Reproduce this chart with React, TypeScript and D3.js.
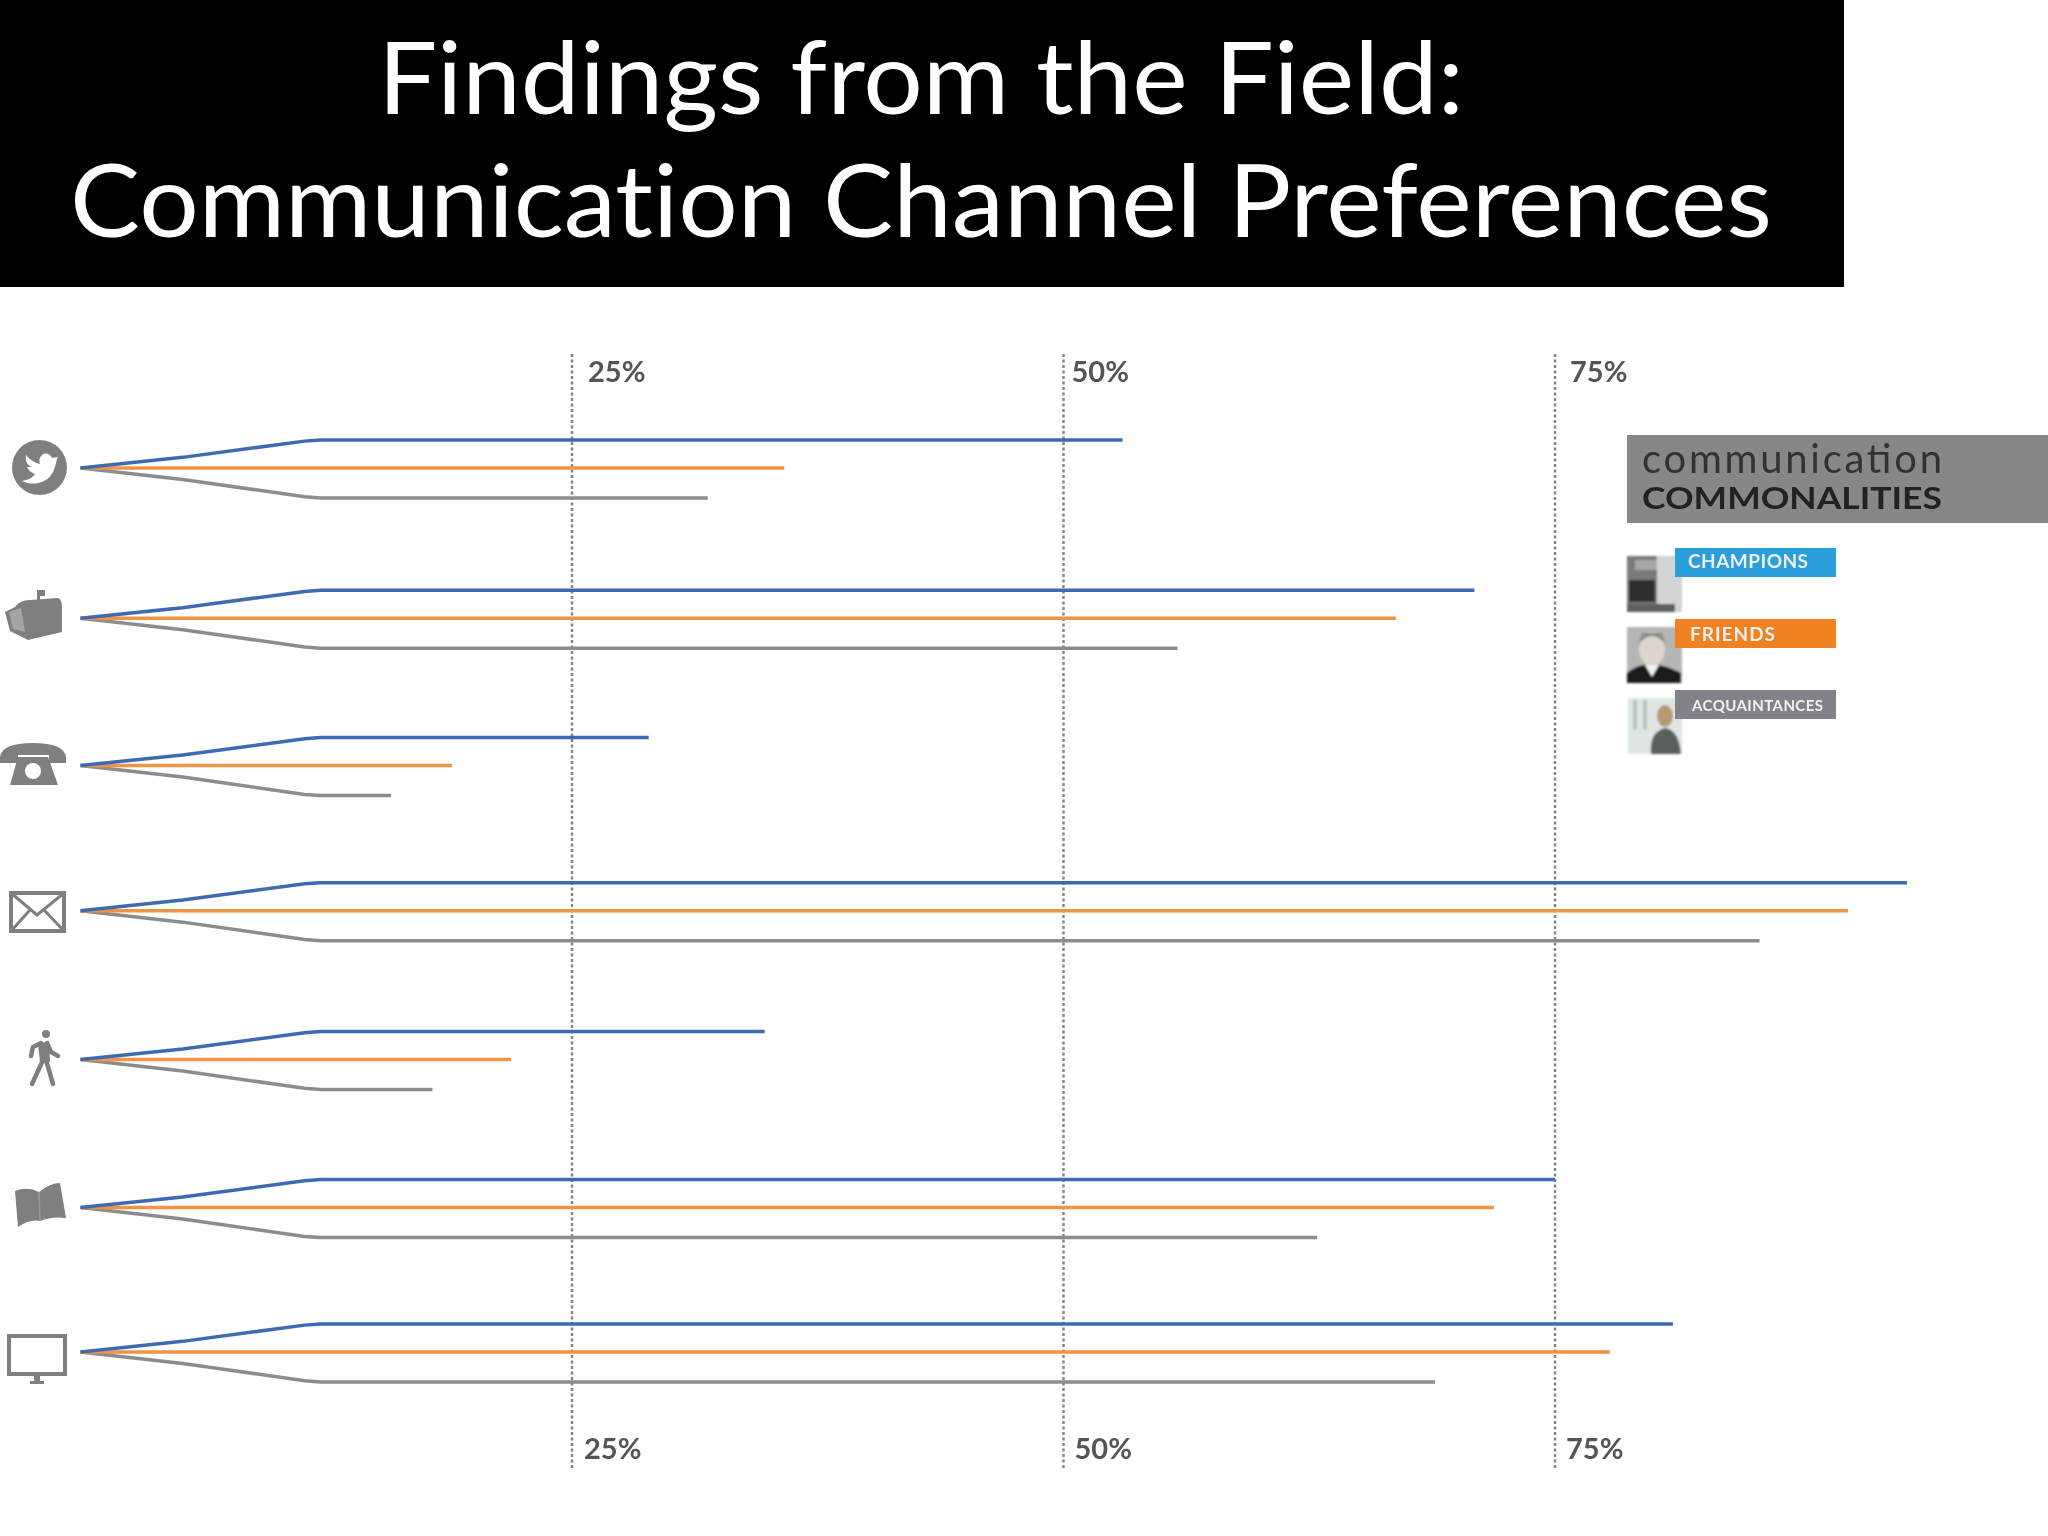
import React from "react";
import * as d3 from "d3";

const titleLines = ["Findings from the Field:", "Communication Channel Preferences"];
const channels = ["Twitter", "Mail", "Phone", "Email", "In person", "Print", "Web"];
const channelRows = [0, 1.02, 2.02, 3.005, 4.015, 5.02, 6];
const champions = [53, 70.9, 28.9, 92.9, 34.8, 75, 81];
const friends = [35.8, 66.9, 18.9, 89.9, 21.9, 71.9, 77.8];
const acquaintances = [31.9, 55.8, 15.8, 85.4, 17.9, 62.9, 68.9];
const gridTicks = [25, 50, 75];
const branchAt = [0, 5.2, 11.4, 12.2];
const branchLift = [0, 0.38, 0.96, 1];
const legendNames = ["CHAMPIONS", "FRIENDS", "ACQUAINTANCES"];

const BLUE = "#3e6bb0";
const ORANGE = "#ee9445";
const GRAY = "#8c8c8c";
const ICON = "#7f7f7f";
const FONT = "Lato, 'Open Sans', sans-serif";

const x = d3.scaleLinear().domain([0, 75]).range([80.5, 1555]);
const y = d3.scaleLinear().domain([0, 6]).range([468, 1352]);
const line = d3
  .line<[number, number]>()
  .x((d) => x(d[0]))
  .y((d) => d[1])
  .curve(d3.curveLinear);

function branch(value: number, row: number, spread: number) {
  const c = y(row);
  const pts: [number, number][] = branchAt
    .filter((b) => b < value)
    .map((b, i) => [b, c + spread * branchLift[i]]);
  pts.push([value, c + spread]);
  return line(pts) as string;
}

const icons: React.ReactNode[] = [
  <g key="tw">
    <ellipse cx={39.5} cy={467.5} rx={27.5} ry={27.5} fill={ICON} />
    <path
      d="M22 481 C32 486 47 484 53 472 C56 466 56 460 58 457 L52 458 C50 453 44 452 41 456 C39 459 39 461 40 464 C35 463 30 460 26 455 C25 461 27 464 31 467 L27 467 C29 471 32 473 35 474 C32 478 28 480 22 481 Z"
      fill="#fff"
    />
  </g>,
  <g key="mail" fill={ICON}>
    <path d="M15 607 Q20 600 30 600 L58 598 Q62 599 62 608 L62 632 L28 640 L10 631 L5 612 Z" />
    <path d="M9 612 L21 608 L25 632 L13 629 Z" fill="#a5a5a5" />
    <rect x={37} y={590} width={3} height={10} />
    <rect x={37} y={590} width={8} height={6} />
  </g>,
  <g key="phone" fill={ICON}>
    <path d="M0 757 Q2 743 33 743 Q64 743 66 757 L66 763 L49 763 L49 755 L18 755 L18 763 L0 763 Z" />
    <path d="M18 757 L48 757 L58 785 L10 785 Z" />
    <circle cx={33} cy={771} r={8} fill="#fff" />
  </g>,
  <g key="email" fill="none" stroke={ICON} strokeWidth={4}>
    <rect x={11} y={893} width={53} height={38} />
    <path d="M11 893 L37 915 L64 893 M11 931 L30 910 M64 931 L44 910" strokeWidth={3} />
  </g>,
  <g key="walk">
    <circle cx={46} cy={1034} r={4} fill={ICON} />
    <path d="M38 1044 L49 1041 L50 1062 L40 1062 Z" fill={ICON} />
    <path
      d="M41 1043 L33 1047 L31 1056 M47 1043 L51 1052 L58 1056 M43 1060 L32 1084 M46 1060 L53 1084"
      fill="none"
      stroke={ICON}
      strokeWidth={4.5}
      strokeLinecap="round"
      strokeLinejoin="round"
    />
  </g>,
  <g key="book" fill={ICON}>
    <path d="M15 1191 Q28 1186 39 1192 Q50 1183 60 1183 L66 1218 Q52 1216 40 1221 Q30 1219 18 1227 Z" />
    <path d="M39 1192 L40 1221" stroke="#999" strokeWidth={1.5} />
  </g>,
  <g key="web">
    <rect x={9} y={1336} width={56} height={38} fill="none" stroke={ICON} strokeWidth={4} />
    <rect x={34} y={1376} width={6} height={6} fill={ICON} />
    <rect x={30} y={1381} width={14} height={3} fill={ICON} />
  </g>,
];

const legendRects = [
  { fill: "#2a9fdc", y0: 548, photo: 556, text: 1688, end: 1808, base: 568 },
  { fill: "#f08224", y0: 619, photo: 627, text: 1690, end: 1775, base: 641 },
  { fill: "#80848a", y0: 690, photo: 698, text: 1692, end: 1823, base: 711 },
];

function Photo({ index, top }: { index: number; top: number }) {
  const X = 1627;
  if (index === 0)
    return (
      <g filter="url(#soft)">
        <rect x={X} y={top} width={55} height={56} fill="#d2d4d5" />
        <rect x={X} y={top} width={30} height={56} fill="#7a7a7a" />
        <rect x={X + 8} y={top + 4} width={22} height={10} fill="#a8a8a8" />
        <path d={`M${X + 2} ${top + 24} h26 v22 h-26 Z`} fill="#2f2f2f" />
        <rect x={X} y={top + 48} width={48} height={8} fill="#5f5f5f" />
      </g>
    );
  if (index === 1)
    return (
      <g filter="url(#soft)">
        <rect x={X} y={top} width={55} height={56} fill="#b5b5b5" />
        <ellipse cx={X + 25} cy={top + 22} rx={13} ry={17} fill="#ddd6cc" />
        <path d={`M${X + 11} ${top + 18} q14 -18 28 0 l-4 -12 h-20 Z`} fill="#8c8c8c" />
        <path d={`M${X} ${top + 56} v-10 q10 -8 18 -8 h14 q10 2 22 8 v10 Z`} fill="#1c1c1c" />
        <path d={`M${X + 18} ${top + 38} l7 12 l7 -12 Z`} fill="#f2f2f2" />
      </g>
    );
  return (
    <g filter="url(#soft)">
      <rect x={X + 1} y={top} width={54} height={56} fill="#dfe5e3" />
      <rect x={X + 6} y={top + 2} width={4} height={30} fill="#b7c4bf" />
      <rect x={X + 16} y={top + 2} width={4} height={30} fill="#b7c4bf" />
      <ellipse cx={X + 38} cy={top + 18} rx={8} ry={11} fill="#b89a70" />
      <path d={`M${X + 24} ${top + 56} q-2 -22 14 -26 q14 2 16 26 Z`} fill="#5c5f60" />
    </g>
  );
}

export default function App() {
  return (
    <svg
      width={2048}
      height={1536}
      viewBox="0 0 2048 1536"
      style={{ position: "absolute", left: 0, top: 0, display: "block", background: "#fff" }}
    >
      <defs>
        <filter id="soft">
          <feGaussianBlur stdDeviation={1.2} />
        </filter>
        <filter id="jpeg" filterUnits="userSpaceOnUse" x={0} y={300} width={2048} height={1236}>
          <feGaussianBlur stdDeviation={0.6} />
        </filter>
      </defs>

      <rect x={0} y={0} width={1844} height={287} fill="#000" />
      {titleLines.map((t, i) => (
        <text
          key={t}
          transform={`translate(921 ${114 + i * 123}) scale(1.05 1)`}
          textAnchor="middle"
          fill="#fff"
          fontFamily={FONT}
          fontSize={100}
          style={{ fontVariantLigatures: "none" }}
        >
          {t}
        </text>
      ))}

      <g filter="url(#jpeg)">
        {gridTicks.map((t, i) => (
          <g key={t}>
            <line
              x1={x(t)}
              x2={x(t)}
              y1={354}
              y2={1469}
              stroke="#7f868c"
              strokeWidth={2.5}
              strokeDasharray="3 2.5"
            />
            <text
              x={x(t) + [16, 8, 15][i]}
              y={382}
              fill="#555"
              fontFamily={FONT}
              fontWeight={700}
              fontSize={29}
            >
              {t}%
            </text>
            <text
              x={x(t) + [12, 11, 11][i]}
              y={1459}
              fill="#555"
              fontFamily={FONT}
              fontWeight={700}
              fontSize={29}
            >
              {t}%
            </text>
          </g>
        ))}

        {channels.map((c, i) => (
          <g key={c} fill="none" strokeWidth={3.5}>
            <path d={branch(acquaintances[i], channelRows[i], 30)} stroke={GRAY} />
            <path d={branch(friends[i], channelRows[i], 0)} stroke={ORANGE} />
            <path d={branch(champions[i], channelRows[i], -28)} stroke={BLUE} />
          </g>
        ))}

        {icons}

        <rect x={1627} y={435} width={421} height={88} fill="#858789" />
        <text x={1642} y={473} fill="#333" fontFamily={FONT} fontSize={40} textLength={300}>
          communication
        </text>
        <text
          x={1642}
          y={509}
          fill="#222"
          fontFamily={FONT}
          fontWeight={700}
          fontSize={31}
          textLength={300}
          lengthAdjust="spacingAndGlyphs"
        >
          COMMONALITIES
        </text>

        {legendNames.map((n, i) => {
          const r = legendRects[i];
          return (
            <g key={n}>
              <Photo index={i} top={r.photo} />
              <rect x={1675} y={r.y0} width={161} height={29} fill={r.fill} />
              <text
                x={r.text}
                y={r.base}
                fill="#f0f0f0"
                fontFamily={FONT}
                fontWeight={700}
                fontSize={i === 2 ? 15 : 19}
                textLength={r.end - r.text}
              >
                {n}
              </text>
            </g>
          );
        })}
      </g>
    </svg>
  );
}
